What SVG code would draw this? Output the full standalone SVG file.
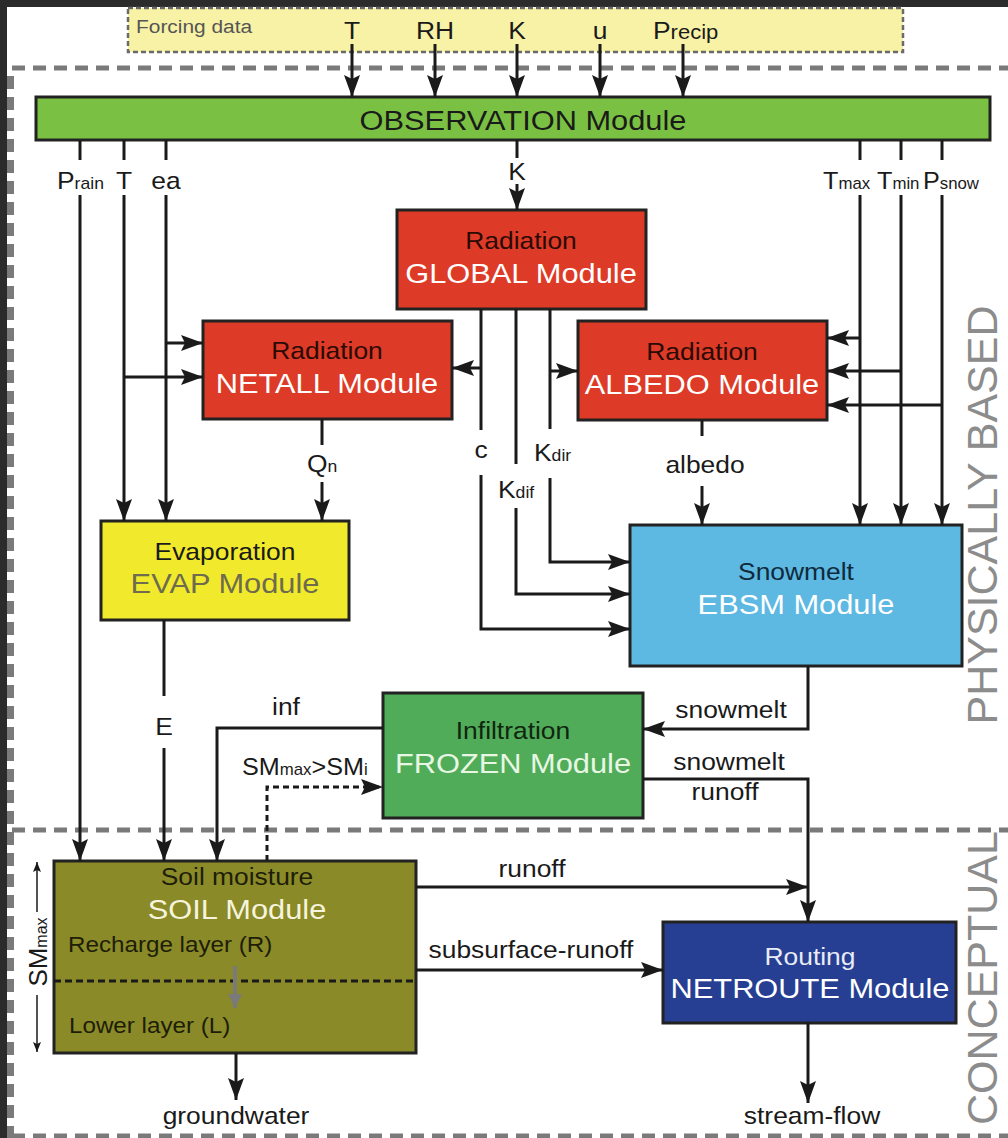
<svg xmlns="http://www.w3.org/2000/svg" width="1008" height="1138" viewBox="0 0 1008 1138">
<defs>
<style>
text{font-family:"Liberation Sans",Arial,Helvetica,sans-serif}
.lb{font-size:24px;fill:#1a1a1a}
.mo{font-size:28px}
.sb{font-size:16px}
.m{text-anchor:middle}
.box{stroke:#222;stroke-width:3}
.ln{fill:none;stroke:#1a1a1a;stroke-width:3}
.ar{marker-end:url(#ah)}
.bd{fill:none;stroke:#7a7a7a;stroke-width:5;stroke-dasharray:13 8}
.side{font-size:43px;fill:#8c8c8c;text-anchor:middle}
.red{fill:#dd3b27}
</style>
<marker id="ah" viewBox="0 0 22 16" refX="22" refY="8" markerWidth="22" markerHeight="16" markerUnits="userSpaceOnUse" orient="auto"><path d="M0,0 L22,8 L0,16 L4,8 z" fill="#1a1a1a"/></marker>
<marker id="as" viewBox="0 0 10 8" refX="10" refY="4" markerWidth="10" markerHeight="8" markerUnits="userSpaceOnUse" orient="auto"><path d="M0,0 L10,4 L0,8 L2,4 z" fill="#1a1a1a"/></marker>
<marker id="ag" viewBox="0 0 14 14" refX="14" refY="7" markerWidth="14" markerHeight="14" markerUnits="userSpaceOnUse" orient="auto"><path d="M0,0 L14,7 L0,14 z" fill="#7a7a7a"/></marker>
</defs>

<g id="frame">
<rect width="1008" height="1138" fill="#fff"/>
<rect width="1008" height="7" fill="#2b2b2b"/>
<rect width="7" height="1138" fill="#2b2b2b"/>
<line class="bd" x1="10.5" y1="76" x2="10.5" y2="1138" style="stroke-width:7"/>
<line class="bd" x1="12" y1="68" x2="1008" y2="68"/>
<line class="bd" x1="12" y1="830" x2="1008" y2="830"/>
<line class="bd" x1="12" y1="1136" x2="1008" y2="1136"/>
<text class="side" transform="translate(997 515) rotate(-90)">PHYSICALLY BASED</text>
<text class="side" transform="translate(997 978) rotate(-90)">CONCEPTUAL</text>
</g>

<g id="forcing">
<rect x="128" y="8" width="775" height="44" fill="#f8f2a6" stroke="#6a6a6a" stroke-width="2.5" stroke-dasharray="5 3"/>
<text class="lb" transform="translate(136 33) scale(1.1 1)" style="font-size:19px;fill:#555">Forcing data</text>
<text class="lb m" transform="translate(352 39) scale(1.1 1)">T</text>
<text class="lb m" transform="translate(435 39) scale(1.1 1)">RH</text>
<text class="lb m" transform="translate(517 39) scale(1.1 1)">K</text>
<text class="lb m" transform="translate(600 39) scale(1.1 1)">u</text>
<text class="lb" transform="translate(653 39) scale(1.1 1)">P<tspan style="font-size:20px">recip</tspan></text>
</g>

<g id="observation">
<rect class="box" x="36" y="97" width="954" height="43" fill="#7ac143"/>
<text class="lb m" transform="translate(523 130) scale(1.1 1)" style="font-size:28px">OBSERVATION Module</text>
</g>

<g id="global">
<rect class="box red" x="397" y="210" width="249" height="99"/>
<text class="lb m" transform="translate(521 249) scale(1.1 1)" style="fill:#2b0a04">Radiation</text>
<text class="lb m mo" transform="translate(521 283) scale(1.1 1)" style="fill:#fff">GLOBAL Module</text>
</g>

<g id="netall">
<rect class="box red" x="203" y="321" width="249" height="98"/>
<text class="lb m" transform="translate(327 359) scale(1.1 1)" style="fill:#2b0a04">Radiation</text>
<text class="lb m mo" transform="translate(327 393) scale(1.1 1)" style="fill:#fff">NETALL Module</text>
</g>

<g id="albedo">
<rect class="box red" x="578" y="321" width="249" height="99"/>
<text class="lb m" transform="translate(702 360) scale(1.1 1)" style="fill:#2b0a04">Radiation</text>
<text class="lb m mo" transform="translate(702 394) scale(1.1 1)" style="fill:#fff">ALBEDO Module</text>
</g>

<g id="evap">
<rect class="box" x="101" y="521" width="248" height="99" fill="#f1ea2c"/>
<text class="lb m" transform="translate(225 560) scale(1.1 1)">Evaporation</text>
<text class="lb m mo" transform="translate(225 593) scale(1.1 1)" style="fill:#6e6b4e">EVAP Module</text>
</g>

<g id="ebsm">
<rect class="box" x="630" y="525" width="332" height="141" fill="#5db8e2"/>
<text class="lb m" transform="translate(796 580) scale(1.1 1)" style="fill:#0e2a3c">Snowmelt</text>
<text class="lb m mo" transform="translate(796 614) scale(1.1 1)" style="fill:#fff">EBSM Module</text>
</g>

<g id="frozen">
<rect class="box" x="383" y="693" width="260" height="125" fill="#50ac58"/>
<text class="lb m" transform="translate(513 739) scale(1.1 1)" style="fill:#102510">Infiltration</text>
<text class="lb m mo" transform="translate(513 773) scale(1.1 1)" style="fill:#e8f6e4">FROZEN Module</text>
</g>

<g id="soil">
<rect class="box" x="54" y="861" width="362" height="192" fill="#8a8a28"/>
<line x1="54" y1="981" x2="416" y2="981" stroke="#1a1a1a" stroke-width="3" stroke-dasharray="7 4"/>
<text class="lb m" transform="translate(237 885) scale(1.1 1)" style="fill:#1e1e08">Soil moisture</text>
<text class="lb m mo" transform="translate(237 919) scale(1.1 1)" style="fill:#f6f4dc">SOIL Module</text>
<text class="lb" transform="translate(68 952) scale(1.1 1)" style="font-size:22px;fill:#1e1e08">Recharge layer (R)</text>
<text class="lb" transform="translate(69 1033) scale(1.1 1)" style="font-size:22px;fill:#1e1e08">Lower layer (L)</text>
<path d="M235,966 V1008" stroke="#7a7a7a" stroke-width="4" fill="none" marker-end="url(#ag)"/>
</g>

<g id="netroute">
<rect class="box" x="663" y="922" width="293" height="101" fill="#263f92"/>
<text class="lb m" transform="translate(810 965) scale(1.1 1)" style="fill:#e8ecf6">Routing</text>
<text class="lb m mo" transform="translate(810 998) scale(1.1 1)" style="fill:#fff">NETROUTE Module</text>
</g>

<g id="connectors">
<path class="ln ar" d="M352,44 V97"/>
<path class="ln ar" d="M435,44 V97"/>
<path class="ln ar" d="M517,44 V97"/>
<path class="ln ar" d="M600,44 V97"/>
<path class="ln ar" d="M683,44 V97"/>

<path class="ln" d="M80,140 V160"/>
<path class="ln ar" d="M80,195 V861"/>
<path class="ln" d="M124,140 V160"/>
<path class="ln ar" d="M124,195 V521"/>
<path class="ln ar" d="M124,377 H203"/>
<path class="ln" d="M166,140 V160"/>
<path class="ln ar" d="M166,195 V521"/>
<path class="ln ar" d="M166,343 H203"/>
<path class="ln" d="M517,140 V158"/>
<path class="ln ar" d="M517,184 V210"/>

<path class="ln" d="M860,140 V160"/>
<path class="ln ar" d="M860,195 V525"/>
<path class="ln ar" d="M860,338 H827"/>
<path class="ln" d="M901,140 V160"/>
<path class="ln ar" d="M901,195 V525"/>
<path class="ln ar" d="M901,371 H827"/>
<path class="ln" d="M942,140 V160"/>
<path class="ln ar" d="M942,195 V525"/>
<path class="ln ar" d="M942,405 H827"/>

<path class="ln" d="M481,309 V430"/>
<path class="ln ar" d="M481,475 V629 H630"/>
<path class="ln ar" d="M481,368 H452"/>
<path class="ln" d="M516,309 V464"/>
<path class="ln ar" d="M516,508 V594 H630"/>
<path class="ln" d="M550,309 V429"/>
<path class="ln ar" d="M550,478 V562 H630"/>
<path class="ln ar" d="M550,371 H578"/>

<path class="ln" d="M322,419 V445"/>
<path class="ln ar" d="M322,482 V521"/>
<path class="ln" d="M702,420 V436"/>
<path class="ln ar" d="M702,486 V525"/>

<path class="ln" d="M164,620 V696"/>
<path class="ln ar" d="M164,748 V861"/>
<path class="ln ar" d="M383,728 H217 V861"/>
<path class="ln ar" d="M267,861 V787 H383" stroke-dasharray="6 4"/>
<path class="ln ar" d="M808,666 V729 H643"/>
<path class="ln ar" d="M643,779 H808 V922"/>
<path class="ln ar" d="M416,887 H808"/>
<path class="ln ar" d="M416,970 H663"/>
<path class="ln ar" d="M236,1053 V1100"/>
<path class="ln ar" d="M808,1023 V1103"/>

<path d="M37,912 V862" stroke="#1a1a1a" stroke-width="1.5" fill="none" marker-end="url(#as)"/>
<path d="M37,995 V1052" stroke="#1a1a1a" stroke-width="1.5" fill="none" marker-end="url(#as)"/>
</g>

<g id="labels">
<text class="lb" transform="translate(57 189) scale(1.1 1)">P<tspan class="sb">rain</tspan></text>
<text class="lb m" transform="translate(124 189) scale(1.1 1)">T</text>
<text class="lb m" transform="translate(166 189) scale(1.1 1)">ea</text>
<text class="lb m" transform="translate(517 180) scale(1.1 1)">K</text>
<text class="lb" transform="translate(823 189) scale(1.05 1)">T<tspan class="sb">max</tspan></text>
<text class="lb" transform="translate(877 189) scale(1.05 1)">T<tspan class="sb">min</tspan></text>
<text class="lb" transform="translate(923 189) scale(1.05 1)">P<tspan class="sb">snow</tspan></text>
<text class="lb" transform="translate(307 472) scale(1.1 1)">Q<tspan class="sb">n</tspan></text>
<text class="lb m" transform="translate(481 458) scale(1.1 1)">c</text>
<text class="lb" transform="translate(534 461) scale(1.1 1)">K<tspan class="sb">dir</tspan></text>
<text class="lb" transform="translate(498 498) scale(1.1 1)">K<tspan class="sb">dif</tspan></text>
<text class="lb m" transform="translate(705 473) scale(1.1 1)">albedo</text>
<text class="lb m" transform="translate(164 735) scale(1.1 1)">E</text>
<text class="lb m" transform="translate(286 715) scale(1.1 1)">inf</text>
<text class="lb" transform="translate(242 775) scale(1.05 1)">SM<tspan class="sb">max</tspan>&gt;SM<tspan class="sb">i</tspan></text>
<text class="lb m" transform="translate(731 718) scale(1.1 1)">snowmelt</text>
<text class="lb m" transform="translate(729 770) scale(1.1 1)">snowmelt</text>
<text class="lb m" transform="translate(725 800) scale(1.1 1)">runoff</text>
<text class="lb m" transform="translate(532 877) scale(1.1 1)">runoff</text>
<text class="lb m" transform="translate(531 958) scale(1.1 1)">subsurface-runoff</text>
<text class="lb m" transform="translate(236 1124) scale(1.1 1)">groundwater</text>
<text class="lb m" transform="translate(812 1124) scale(1.1 1)">stream-flow</text>
<text class="lb m" transform="translate(47 952) rotate(-90)" style="font-size:26px">SM<tspan class="sb">max</tspan></text>
</g>
</svg>
